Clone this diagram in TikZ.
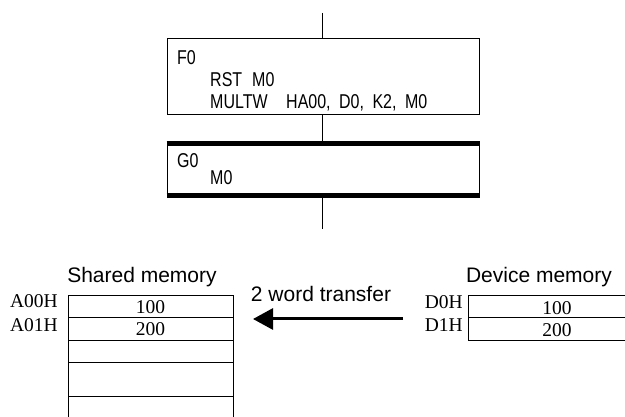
\documentclass[tikz,border=0pt]{standalone}
\usepackage{fontspec}
\setmainfont{Liberation Serif}
\newfontfamily\plcfont[FakeStretch=0.8]{Liberation Sans}
\newfontfamily\labelfont{Liberation Sans}
\usetikzlibrary{arrows.meta}
\begin{document}
\begin{tikzpicture}[x=1pt,y=-1pt,
  stepbox/.style={draw,line width=1pt,minimum width=312pt,inner sep=0pt},
  plc/.style={anchor=base west,inner sep=0pt,font=\plcfont\fontsize{20}{24}\selectfont},
  cell/.style={draw,line width=1pt,inner sep=0pt,font=\fontsize{19.5}{22}\selectfont},
  addr/.style={anchor=base east,inner sep=0pt,font=\fontsize{19.5}{22}\selectfont},
  caption/.style={anchor=base,inner sep=0pt,font=\labelfont\fontsize{21}{24}\selectfont}]
\useasboundingbox (0,0) rectangle (625,417);
\clip (0,0) rectangle (625,417);
% Schritt F0 mit Befehlen
\coordinate (top) at (322,13);
\node[stepbox,minimum height=76pt] (f0box) at (323,77) {};
\node[plc] (f0lbl) at (177,65) {F0};
\node[plc] (f0rst) at (210,87) {RST\hspace{10pt}M0};
\node[plc] (f0mul) at (210,109) {MULTW};
\node[plc] (f0arg) at (286,109) {HA00,\hspace{8.5pt}D0,\hspace{8.5pt}K2,\hspace{8.5pt}M0};
% Schritt G0 (dicke Linien oben und unten)
\node[stepbox,minimum height=56pt] (g0box) at (323,170) {};
\draw[line width=5pt] (g0box.north west) ++(0,2.5) -- ([yshift=-2.5pt]g0box.north east);
\draw[line width=5pt] (g0box.south west) ++(0,-2.5) -- ([yshift=2.5pt]g0box.south east);
\node[plc] (g0lbl) at (177,168) {G0};
\node[plc] (g0m) at (210,185) {M0};
\coordinate (bottom) at (322,229);
% Wirkungslinie
\draw[line width=1pt] (top) -- (top|-f0box.north);
\draw[line width=1pt] (top|-f0box.south) -- (top|-g0box.north);
\draw[line width=1pt] (top|-g0box.south) -- (bottom);
% gemeinsamer Speicher
\node[caption] (smcap) at (142,283) {Shared memory};
\node[cell,minimum width=165pt,minimum height=22pt] (sm0) at (150.5,307) {100};
\node[cell,minimum width=165pt,minimum height=23pt] (sm1) at (150.5,329.5) {200};
\node[cell,minimum width=165pt,minimum height=22pt] (sm2) at (150.5,352) {};
\node[cell,minimum width=165pt,minimum height=34pt] (sm3) at (150.5,380) {};
\node[cell,minimum width=165pt,minimum height=40pt] (sm4) at (150.5,417) {};
\node[addr] (a00) at (58,308) {A00H};
\node[addr] (a01) at (58,332) {A01H};
% Geraetespeicher
\node[caption] (dmcap) at (539,283) {Device memory};
\node[cell,minimum width=180pt,minimum height=22pt] (dm0) at (558,307) {};
\node[cell,minimum width=180pt,minimum height=23pt] (dm1) at (558,329.5) {};
\node[font=\fontsize{19.5}{22}\selectfont,inner sep=0pt] (d100) at (557,308) {100};
\node[font=\fontsize{19.5}{22}\selectfont,inner sep=0pt] (d200) at (557,330.5) {200};
\node[addr] (d0h) at (463,309) {D0H};
\node[addr] (d1h) at (463,332) {D1H};
% Uebertragung
\node[caption] (xfer) at (321,302) {2 word transfer};
\coordinate (from) at (403,319);
\coordinate (to) at (253,319);
\draw[line width=3pt,-{Triangle[length=20pt,width=21pt]}] (from) -- (to);
\end{tikzpicture}
\end{document}
